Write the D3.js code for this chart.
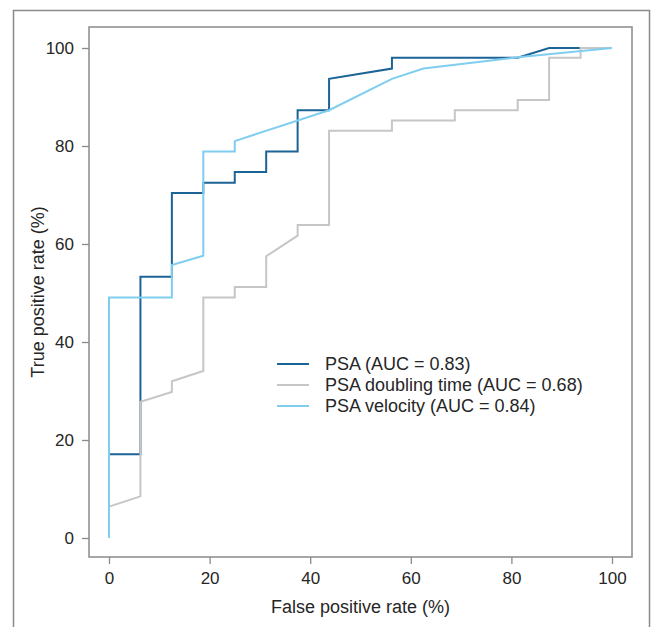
<!DOCTYPE html>
<html>
<head>
<meta charset="utf-8">
<script src="https://cdn.jsdelivr.net/npm/d3@7"></script>
<style>
  body { margin: 0; background: #fff; }
  svg text { font-family: "Liberation Sans", Arial, sans-serif; fill: #262626; }
</style>
</head>
<body>
<div id="chart"></div>
<script>
// ROC curves, values (percent)
const psaFpr = [0, 0, 6.25, 6.25, 12.5, 12.5, 18.75, 18.75, 25, 25, 31.25, 31.25, 37.5, 37.5, 43.75, 43.75, 56.25, 56.25, 81.25, 87.5, 100];
const psaTpr = [0, 17.1, 17.1, 53.3, 53.3, 70.4, 70.4, 72.5, 72.5, 74.7, 74.7, 78.9, 78.9, 87.3, 87.3, 93.7, 95.8, 98.0, 98.0, 100, 100];

const dtFpr = [0, 0, 6.25, 6.25, 12.5, 12.5, 18.75, 18.75, 25, 25, 31.25, 31.25, 37.5, 37.5, 43.75, 43.75, 56.25, 56.25, 68.75, 68.75, 81.25, 81.25, 87.5, 87.5, 93.75, 93.75, 100];
const dtTpr = [0, 6.4, 8.5, 27.8, 29.8, 32.0, 34.1, 49.1, 49.1, 51.2, 51.2, 57.5, 61.7, 63.9, 63.9, 83.1, 83.1, 85.2, 85.2, 87.3, 87.3, 89.4, 89.4, 98.0, 98.0, 100, 100];

const velFpr = [0, 0, 12.5, 12.5, 18.75, 18.75, 25, 25, 43.75, 56.25, 62.5, 81.25, 100];
const velTpr = [0, 49.1, 49.1, 55.7, 57.6, 78.9, 78.9, 81.0, 87.3, 93.7, 95.8, 98.1, 100];

const seriesNames = ["PSA (AUC = 0.83)", "PSA doubling time (AUC = 0.68)", "PSA velocity (AUC = 0.84)"];
const seriesColors = ["#1d6496", "#c6c6c6", "#7fcdef"];
const xTicks = [0, 20, 40, 60, 80, 100];
const yTicks = [0, 20, 40, 60, 80, 100];

const svgWidth = 652;
const svgHeight = 627;
const box = {left: 89, top: 27, right: 632, bottom: 557};

const svg = d3.select("#chart")
  .append("svg")
    .attr("width", svgWidth)
    .attr("height", svgHeight);

// outer figure frame (bottom runs off the page)
svg.append("rect")
  .attr("x", 13.5).attr("y", 10.5)
  .attr("width", 636).attr("height", 640)
  .attr("fill", "none")
  .attr("stroke", "#8a8a8a")
  .attr("stroke-width", 1.5);

const x = d3.scaleLinear().domain([0, 100]).range([109, 612]);
const y = d3.scaleLinear().domain([0, 100]).range([538, 48]);

// plot box
svg.append("rect")
  .attr("x", box.left).attr("y", box.top)
  .attr("width", box.right - box.left).attr("height", box.bottom - box.top)
  .attr("fill", "none")
  .attr("stroke", "#8a8a8a")
  .attr("stroke-width", 1.5);

// axes
svg.append("g")
  .attr("transform", `translate(0, ${box.bottom})`)
  .call(d3.axisBottom(x).tickValues(xTicks).tickSize(7).tickPadding(8))
  .call(g => g.select(".domain").remove())
  .call(g => g.selectAll(".tick line").attr("stroke", "#8a8a8a").attr("stroke-width", 1.3))
  .call(g => g.selectAll(".tick text").attr("font-size", 17).attr("fill", "#262626")
    .attr("font-family", "Liberation Sans, Arial, sans-serif"));

svg.append("g")
  .attr("transform", `translate(${box.left}, 0)`)
  .call(d3.axisLeft(y).tickValues(yTicks).tickSize(7).tickPadding(8))
  .call(g => g.select(".domain").remove())
  .call(g => g.selectAll(".tick line").attr("stroke", "#8a8a8a").attr("stroke-width", 1.3))
  .call(g => g.selectAll(".tick text").attr("font-size", 17).attr("fill", "#262626")
    .attr("font-family", "Liberation Sans, Arial, sans-serif"));

svg.append("text")
  .attr("x", (box.left + box.right) / 2)
  .attr("y", 613)
  .attr("text-anchor", "middle")
  .attr("font-size", 18)
  .text("False positive rate (%)");

svg.append("text")
  .attr("transform", `translate(44, ${(box.top + box.bottom) / 2}) rotate(-90)`)
  .attr("text-anchor", "middle")
  .attr("font-size", 18)
  .text("True positive rate (%)");

// curves
const curves = [
  [psaFpr, psaTpr],
  [dtFpr, dtTpr],
  [velFpr, velTpr]
];
const line = d3.line()
  .x(d => x(d[0]))
  .y(d => y(d[1]));

curves.forEach(function(c, i) {
  const pts = c[0].map((v, j) => [v, c[1][j]]);
  svg.append("path")
    .attr("fill", "none")
    .attr("stroke", seriesColors[i])
    .attr("stroke-width", 2)
    .attr("stroke-linejoin", "miter")
    .attr("d", line(pts));
});

// legend
const legend = svg.append("g").attr("transform", "translate(277, 364)");
seriesNames.forEach(function(name, i) {
  const row = legend.append("g").attr("transform", `translate(0, ${i * 21})`);
  row.append("line")
    .attr("x1", 0).attr("x2", 32)
    .attr("stroke", seriesColors[i])
    .attr("stroke-width", 2);
  row.append("text")
    .attr("x", 48)
    .attr("y", 6)
    .attr("font-size", 18)
    .text(name);
});
</script>
</body>
</html>
